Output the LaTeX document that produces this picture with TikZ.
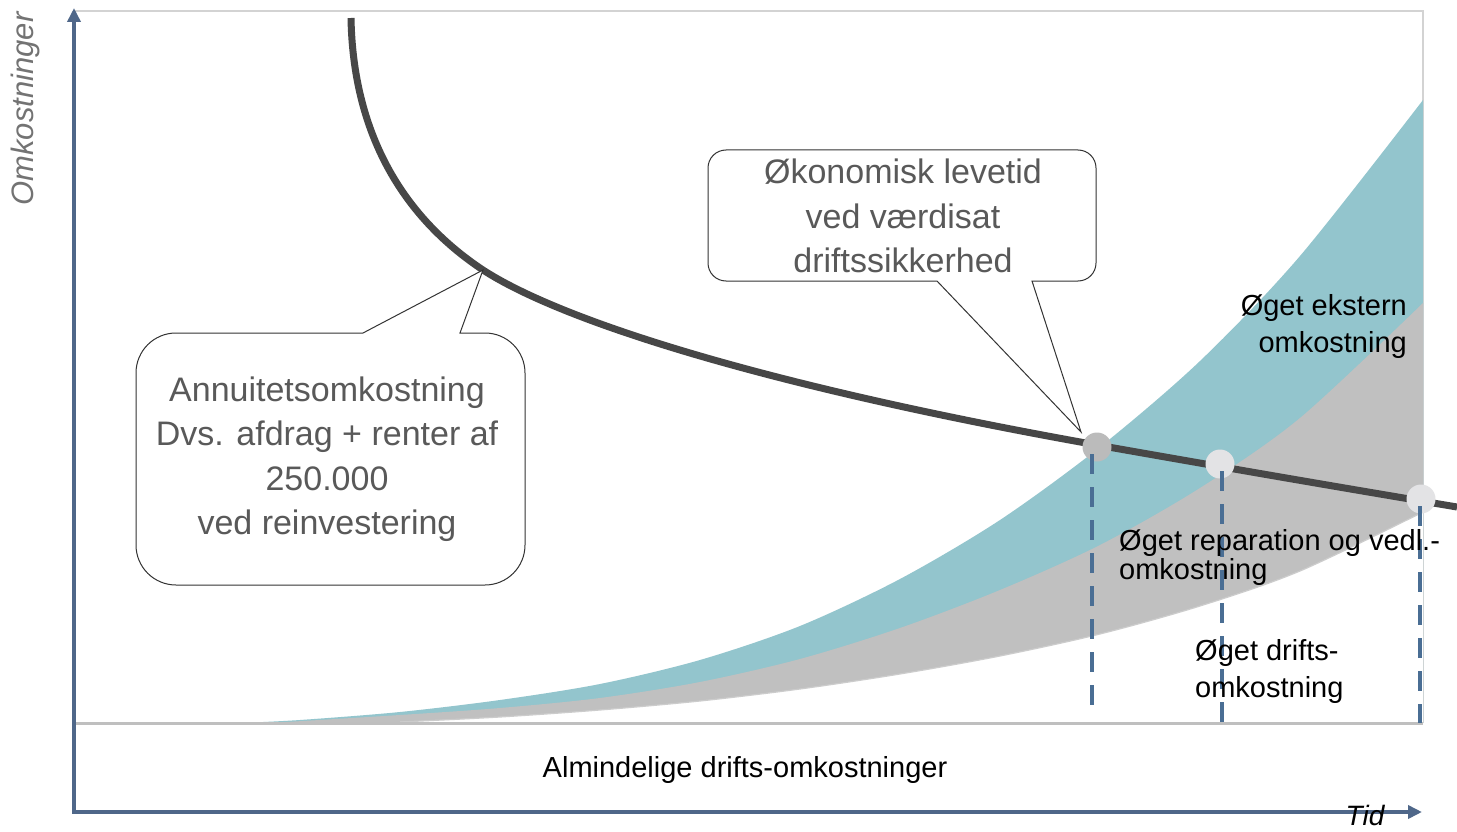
\documentclass[tikz,border=0pt]{standalone}
\usepackage{fontspec}
\setmainfont{Liberation Sans}
\usetikzlibrary{arrows.meta}
\definecolor{axisblue}{HTML}{4F6789}
\definecolor{dashblue}{HTML}{4A6E94}
\definecolor{tealfill}{HTML}{93C5CD}
\definecolor{grayfill}{HTML}{C0C0C0}
\definecolor{curvegray}{HTML}{474747}
\definecolor{calltext}{HTML}{595959}
\definecolor{framegray}{HTML}{D3D3D3}
\definecolor{dotdark}{HTML}{BBBBBB}
\definecolor{dotlight}{HTML}{E3E3E5}
\begin{document}
\begin{tikzpicture}[x=1pt,y=-1pt,
  axisline/.style={draw=axisblue,line width=4pt,-{Triangle[width=13pt,length=14pt]}},
  framel/.style={draw=framegray,line width=2pt},
  cost/.style={draw=curvegray,line width=7pt},
  vdash/.style={draw=dashblue,line width=4pt,dash pattern=on 20pt off 13pt},
  dot/.style={circle,inner sep=0pt,minimum size=29pt,draw=none},
  callbox/.style={draw=black!80,line width=1pt,fill=white},
  calltxt/.style={text=calltext,align=center,inner sep=0pt,font=\fontsize{34pt}{44.5pt}\selectfont},
  lbl/.style={text=black,inner sep=0pt,font=\fontsize{29pt}{37pt}\selectfont}
]
\useasboundingbox (0,0) rectangle (1457,832);
\fill[white] (0,0) rectangle (1457,832);

% frame
\draw[framel] (75,11) -- (1423,11) -- (1423,723);

% areas
\fill[tealfill] plot[smooth] coordinates {(240,723) (300,720) (400,712) (500,700) (600,684) (700,660) (800,626) (900,579) (1000,520) (1100,447) (1200,361) (1300,256) (1423,100)} -- (1423,723) -- (240,723) -- cycle;
\fill[grayfill] plot[smooth] coordinates {(270,723) (400,715) (500,708) (600,698) (700,682) (800,659) (900,628) (1000,590) (1100,545) (1200,488) (1300,418) (1423,303)} -- (1423,723) -- (270,723) -- cycle;
\fill[white] plot[smooth] coordinates {(400,722) (500,717) (600,710) (700,701) (800,689) (900,674) (1000,656) (1100,634) (1200,606) (1300,571) (1423,512)} -- (1423,723) -- (400,723) -- cycle;
\draw[black!20,line width=1.2pt] plot[smooth] coordinates {(400,722) (500,717) (600,710) (700,701) (800,689) (900,674) (1000,656) (1100,634) (1200,606) (1300,571) (1423,512)};

% baseline
\draw[draw=black!25,line width=3pt] (76,723) -- (1423,723);

% axes
\coordinate (origin) at (74,813);
\coordinate (ytip) at (74,8);
\coordinate (xorigin) at (72,812);
\coordinate (xtip) at (1422,812);
\draw[axisline] (origin) -- (ytip);
\draw[axisline] (xorigin) -- (xtip);

% annuity curve
\coordinate (cstart) at (351,18);
\coordinate (cmid) at (483,270);
\coordinate (cx) at (1097,445);
\coordinate (cend) at (1457,507);
\draw[cost] (cstart) .. controls (353,130) and (400,215) .. (cmid)
  .. controls (560,320) and (760,385) .. (cx)
  .. controls (1250,472) and (1350,489) .. (cend);

% intersection dots
\node[dot,fill=dotdark] (c1) at (1097,447) {};
\node[dot,fill=dotlight] (c2) at (1220,464) {};
\node[dot,fill=dotlight] (c3) at (1421,499) {};

% dashed drop lines
\coordinate (t1) at (1092,454);
\coordinate (b1) at (1092,710);
\coordinate (t2) at (1222,471);
\coordinate (b2) at (1222,723);
\coordinate (t3) at (1420,506);
\coordinate (b3) at (1420,723);
\draw[vdash] (t1) -- (b1);
\draw[vdash] (t2) -- (b2);
\draw[vdash] (t3) -- (b3);

% callout: okonomisk levetid
\draw[callbox] (1032,281) -- (1081,432) -- (937,281) -- (726,281)
  arc[start angle=90,end angle=180,radius=18] -- (708,168)
  arc[start angle=180,end angle=270,radius=18] -- (1078,150)
  arc[start angle=270,end angle=360,radius=18] -- (1096,263)
  arc[start angle=0,end angle=90,radius=18] -- cycle;
\node[calltxt] (oko) at (903,216) {Økonomisk levetid\\ved værdisat\\driftssikkerhed};

% callout: annuitet
\draw[callbox] (363,333) -- (483,270) -- (460,333) -- (485,333)
  arc[start angle=270,end angle=360,radius=40] -- (525,545)
  arc[start angle=0,end angle=90,radius=40] -- (176,585)
  arc[start angle=90,end angle=180,radius=40] -- (136,373)
  arc[start angle=180,end angle=270,radius=40] -- cycle;
\node[calltxt] (ann) at (327,459) {Annuitetsomkostning\\Dvs. afdrag + renter af\\250.000\\ved reinvestering};

% labels
\node[lbl,align=right,anchor=east] (ekst) at (1407,327) {Øget ekstern\\omkostning};
\node[lbl,align=left,anchor=west,font=\fontsize{29pt}{29pt}\selectfont] (rep) at (1119,557) {Øget reparation og vedl.-\\omkostning};
\node[lbl,align=left,anchor=west] (drift) at (1195,671) {Øget drifts-\\omkostning};
\node[lbl] (alm) at (745,770) {Almindelige drifts-omkostninger};
\node[lbl,anchor=base,font=\fontsize{28pt}{28pt}\selectfont\itshape] (tid) at (1365,825) {Tid};
\node[text=black!55,inner sep=0pt,rotate=90,font=\fontsize{31pt}{31pt}\selectfont\itshape] (omk) at (25,109) {Omkostninger};
\end{tikzpicture}
\end{document}
